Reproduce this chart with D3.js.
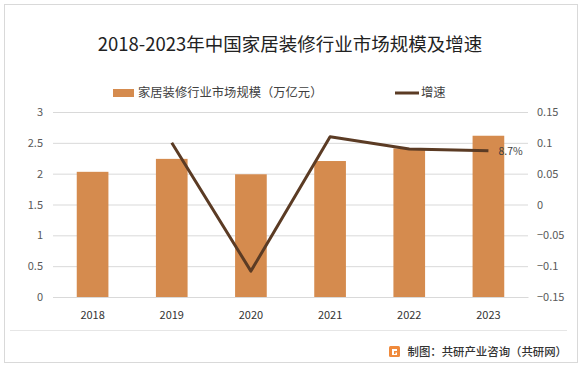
<!DOCTYPE html>
<html><head><meta charset="utf-8">
<script src="https://cdn.jsdelivr.net/npm/d3@7/dist/d3.min.js"></script>
<style>
body{margin:0;background:#fff;}
svg text{font-family:"Noto Sans CJK SC","Noto Sans",sans-serif;}
</style></head>
<body>
<svg id="c" width="583" height="368"></svg>
<script>
const categories = ["2018","2019","2020","2021","2022","2023"];
const marketSize = [2.03, 2.24, 1.99, 2.205, 2.41, 2.615];
const growth = [null, 0.10, -0.108, 0.11, 0.09, 0.087];
const leftTicks = [0, 0.5, 1, 1.5, 2, 2.5, 3];
const rightTicks = [-0.15, -0.1, -0.05, 0, 0.05, 0.1, 0.15];
const title = "2018-2023年中国家居装修行业市场规模及增速";
const legendBar = "家居装修行业市场规模（万亿元）";
const legendLine = "增速";
const lastLabel = "8.7%";
const footer = "制图：共研产业咨询（共研网）";

const svg = d3.select("#c");
const barColor = "#d58b4e", lineColor = "#5b3b24";

svg.append("rect").attr("x",4.5).attr("y",4.5).attr("width",573).attr("height",358)
  .attr("fill","#fff").attr("stroke","#d9d9d9");

const L = 53, R = 528, T = 112, B = 297;
const x = d3.scaleBand().domain(categories).range([L,R]).paddingInner(0.6).paddingOuter(0.3);
const yL = d3.scaleLinear().domain([0,3]).range([B,T]);
const yR = d3.scaleLinear().domain([-0.15,0.15]).range([B,T]);

// title
svg.append("text").attr("x",290).attr("y",51).attr("text-anchor","middle")
  .attr("font-size",18.5).attr("fill","#222").text(title);

// legend
svg.append("rect").attr("x",113).attr("y",89).attr("width",21).attr("height",8).attr("fill",barColor);
svg.append("text").attr("x",138).attr("y",97).attr("font-size",12.3).attr("fill","#404040").text(legendBar);
svg.append("line").attr("x1",395).attr("x2",419).attr("y1",93).attr("y2",93).attr("stroke",lineColor).attr("stroke-width",3);
svg.append("text").attr("x",421).attr("y",97).attr("font-size",12.3).attr("fill","#404040").text(legendLine);

// gridlines + left axis
const gl = d3.axisLeft(yL).tickValues(leftTicks).tickSize(-(R-L)).tickFormat(d=>d3.format("")(d));
const gLeft = svg.append("g").attr("transform",`translate(${L},0)`).call(gl);
gLeft.select(".domain").remove();
gLeft.selectAll(".tick line").attr("stroke","#d9d9d9");
gLeft.selectAll(".tick text").attr("x",-10).attr("font-size",11).attr("fill","#595959");

// right axis
const ar = d3.axisRight(yR).tickValues(rightTicks).tickSize(0).tickFormat(d=>d3.format("")(+d.toFixed(2)));
const gRight = svg.append("g").attr("transform",`translate(${R},0)`).call(ar);
gRight.select(".domain").remove();
gRight.selectAll(".tick text").attr("x",9).attr("font-size",11).attr("fill","#595959");

// bars
svg.append("g").selectAll("rect").data(categories).join("rect")
  .attr("x",d=>x(d)).attr("width",x.bandwidth())
  .attr("y",(d,i)=>yL(marketSize[i])).attr("height",(d,i)=>B-yL(marketSize[i]))
  .attr("fill",barColor);

// x axis
const ax = d3.axisBottom(x).tickSize(0);
const gx = svg.append("g").attr("transform",`translate(0,${B})`).call(ax);
gx.select(".domain").attr("stroke","#d9d9d9");
gx.selectAll(".tick text").attr("y",14).attr("font-size",11).attr("fill","#333");

// line
const pts = categories.map((c,i)=>({c,v:growth[i]})).filter(d=>d.v!==null);
svg.append("path").datum(pts)
  .attr("d",d3.line().x(d=>x(d.c)+x.bandwidth()/2).y(d=>yR(d.v)))
  .attr("fill","none").attr("stroke",lineColor).attr("stroke-width",3).attr("stroke-linejoin","round");
const last = pts[pts.length-1];
svg.append("text").attr("x",x(last.c)+x.bandwidth()/2+10).attr("y",yR(last.v)+4)
  .attr("font-size",10.5).attr("fill","#404040").text(lastLabel);

// separator & footer
svg.append("line").attr("x1",10).attr("x2",567).attr("y1",330.5).attr("y2",330.5).attr("stroke","#e6e6e6");
const lg = svg.append("g").attr("transform","translate(389,346)");
lg.append("rect").attr("width",11).attr("height",11).attr("rx",1.5).attr("fill","#f08a3c");
lg.append("path").attr("d","M3,3 H8 V5 H5 V8 H6.5 V6.5 H8 V9 H3 Z").attr("fill","#fff");
svg.append("text").attr("x",567).attr("y",356).attr("text-anchor","end")
  .attr("font-size",11.4).attr("font-weight",500).attr("fill","#333").text(footer);
</script>
</body></html>
